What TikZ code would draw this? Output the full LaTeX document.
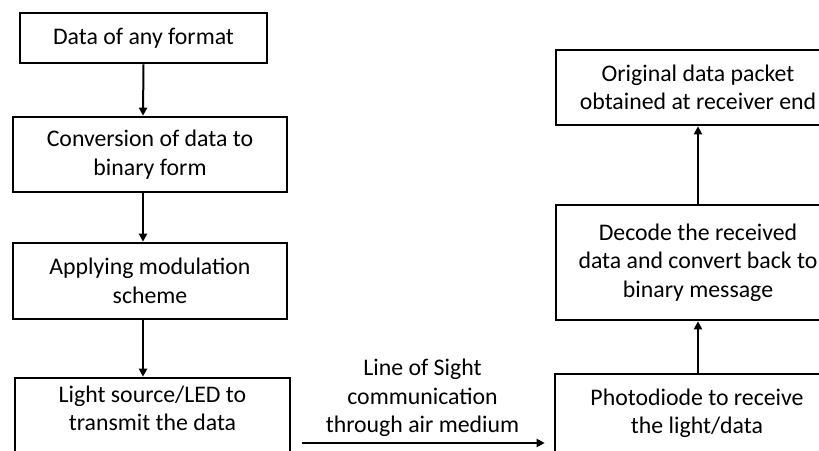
\documentclass[tikz,border=0pt]{standalone}
\usepackage{fontspec}
\setmainfont{Carlito}
\usetikzlibrary{arrows.meta}

\begin{document}
\begin{tikzpicture}[x=1pt,y=1pt,
    stepbox/.style={draw,line width=2.6pt,align=center,inner sep=0pt,
      font=\fontsize{23.8}{28.5}\selectfont},
    arr/.style={line width=2pt,-{Triangle[length=8pt,width=8pt]}}]
  \useasboundingbox (0,0) rectangle (819,450);
  \clip (0,0) rectangle (819,450);
  % sender side
  \node[stepbox,minimum width=247,minimum height=50] (fmt) at (143.5,412) {Data of any format};
  \node[stepbox,minimum width=274,minimum height=75] (bin) at (150,295.5) {Conversion of data to\\binary form};
  \node[stepbox,minimum width=274,minimum height=76] (mod) at (150,169) {Applying modulation\\scheme};
  \node[stepbox,minimum width=275,minimum height=84,text depth=24pt] (led) at (152.5,30) {Light source/LED to\\transmit the data};
  % receiver side
  \node[stepbox,minimum width=284,minimum height=84,text depth=10pt] (diode) at (697,34) {Photodiode to receive\\the light/data};
  \node[stepbox,minimum width=284,minimum height=115] (decode) at (698,187.5) {Decode the received\\data and convert back to\\binary message};
  \node[stepbox,minimum width=284,minimum height=75] (orig) at (698,362.5) {Original data packet\\obtained at receiver end};
  \coordinate (col) at (143,0);
  \coordinate (los) at (0,7);
  \draw[arr] (fmt.south) -- (col |- bin.north);
  \draw[arr] (col |- bin.south) -- (col |- mod.north);
  \draw[arr] (col |- mod.south) -- (col |- led.north);
  \draw[arr,shorten <=11pt,shorten >=9pt] (led.east |- los) -- node[above=2pt,align=center,
    font=\fontsize{23.8}{28.5}\selectfont] {Line of Sight\\communication\\through air medium} (diode.west |- los);
  \draw[arr] (diode.north -| orig.south) -- (decode.south -| orig.south);
  \draw[arr] (decode.north) -- (orig.south);
\end{tikzpicture}
\end{document}
